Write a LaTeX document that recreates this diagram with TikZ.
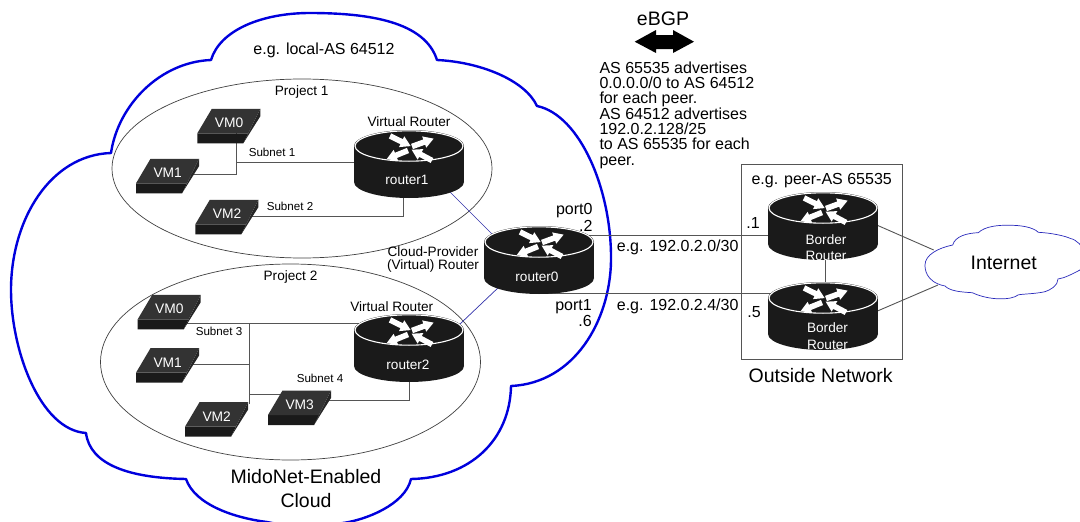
\documentclass[tikz,border=0pt]{standalone}
\usepackage{fontspec}
\setmainfont{Liberation Sans}
\usetikzlibrary{calc,backgrounds}
\definecolor{rblack}{HTML}{1A1A1A}
\definecolor{vmtop}{HTML}{333333}
\definecolor{vmfront}{HTML}{1A1A1A}
\definecolor{vmside}{HTML}{262626}
\definecolor{linkgray}{HTML}{555555}
\definecolor{bigblue}{HTML}{0000DD}
\definecolor{thinblue}{HTML}{3333AA}
\tikzset{
  tbig/.style={inner sep=0pt,font=\fontsize{19.5}{24}\selectfont,align=center},
  tmid/.style={inner sep=0pt,font=\fontsize{16}{15.3}\selectfont},
  tsm/.style={inner sep=0pt,font=\fontsize{13.6}{12.6}\selectfont,align=center},
  tsub/.style={inner sep=0pt,font=\fontsize{11.6}{13}\selectfont},
  twhite/.style={inner sep=0pt,text=white,font=\fontsize{13.6}{16.5}\selectfont,align=center},
  tvm/.style={inner sep=0pt,text=white,font=\fontsize{13.8}{14}\selectfont},
  link/.style={draw=linkgray,line width=0.9pt},
  bluelink/.style={draw=thinblue,line width=0.7pt},
  projell/.style={draw=black!75,line width=0.7pt},
  rnode/.style={inner sep=0pt,minimum width=110pt,minimum height=68pt},
}
\newcommand{\rarr}[3]{\fill[white,shift={(#1,#2)},rotate=#3] (0,2.8)--(13,2.8)--(13,6)--(23,0)--(13,-6)--(13,-2.8)--(0,-2.8)--cycle;}
\newcommand{\myrouter}[3]{%
  \begin{scope}[shift={(#2,#3)}]
    \fill[rblack] (0,36) ellipse [x radius=55,y radius=16];
    \fill[rblack] (-55,0) rectangle (55,36);
    \fill[rblack] (0,0) ellipse [x radius=55,y radius=16];
    \draw[white,line width=1.1pt] (0,0) ellipse [x radius=54,y radius=15.2];
    \rarr{-19}{-10}{-26}
    \rarr{3}{0.5}{20}
    \rarr{-1}{4.5}{202}
    \rarr{23}{14.5}{152}
    \node[rnode] (#1) at (0,18) {};
  \end{scope}}
\newcommand{\myvm}[4]{%
  \begin{scope}[shift={(#2,#3)}]
    \fill[vmfront] (0,0)--(51,0)--(46,10)--(0,10)--cycle;
    \fill[vmside] (51,0)--(63,-24.5)--(63,-17)--(46,10)--cycle;
    \fill[vmtop] (0,0)--(14.5,-24.5)--(63,-24.5)--(51,0)--cycle;
    \node[tvm] (#1) at (31.7,-10.3) {#4};
  \end{scope}}
\begin{document}
\begin{tikzpicture}[x=1pt,y=-1pt]
\clip (0,0) rectangle (1080,522);
% routers
\myrouter{r1}{409}{146}
\myrouter{r0}{539}{242}
\myrouter{r2}{409}{330}
\myrouter{b1}{823}{208}
\myrouter{b2}{823}{298}
\node[twhite] (r1t) at (407,180) {router1};
\node[twhite] (r0t) at (537,277) {router0};
\node[twhite] (r2t) at (408,365) {router2};
\node[twhite] (b1t) at (826,247.5) {Border\\Router};
\node[twhite] (b2t) at (827.5,336) {Border\\Router};
% VMs
\myvm{pa}{197.3}{133.3}{VM0}
\myvm{pb}{136}{183.3}{VM1}
\myvm{pc}{195.3}{224.3}{VM2}
\myvm{qa}{137.7}{319.3}{VM0}
\myvm{qb}{136}{372.7}{VM1}
\myvm{qc}{185}{426.7}{VM2}
\myvm{qd}{268}{415}{VM3}
% Internet cloud
\node[tbig] (inet) at (1003.7,262.7) {Internet};
\begin{pgfonlayer}{background}
\draw[link] ($(b1)+(37,-8.3)$) -- ($(inet)+(-70,-12.7)$);
\draw[link] ($(b2)+(37,2.5)$) -- ($(inet)+(-65.7,22.3)$);
\fill[white,draw=thinblue!80!blue,line width=0.7pt]
  (945,286) .. controls (925,282) and (925,268) .. (925,265)
  .. controls (925,255) and (938,248) .. (952.7,245)
  .. controls (955,236) and (968,233) .. (978.3,232.7)
  .. controls (985,226) and (1000,225) .. (1008,225.3)
  .. controls (1020,225) and (1033,227) .. (1038.3,232.3)
  .. controls (1052,233) and (1065,236) .. (1070,238.3)
  .. controls (1085,242) and (1090,262) .. (1080,270)
  .. controls (1072,274) and (1065,278) .. (1058,279)
  .. controls (1058,286) and (1050,290) .. (1045,291.7)
  .. controls (1035,294) and (1020,294) .. (1018,295)
  .. controls (1012,300) and (990,301) .. (972.3,292.7)
  .. controls (960,292) and (950,291) .. (945,286) -- cycle;
% big cloud
\node[draw=linkgray,line width=0.9pt,minimum width=160.6pt,minimum height=194.7pt,inner sep=0pt] (outbox) at (822,261.7) {};
\draw[bigblue,line width=2.4pt,line join=round]
  (111,153) .. controls (118,105) and (160,62) .. (211,60)
  .. controls (220,30) and (262,13) .. (310,13)
  .. controls (370,13) and (425,22) .. (437,60)
  .. controls (480,62) and (525,80) .. (537,106)
  .. controls (580,115) and (612,190) .. (611,261)
  .. controls (610,320) and (575,383) .. (511,386)
  .. controls (510,440) and (470,478) .. (411,479)
  .. controls (405,505) and (365,520) .. (343,523)
  .. controls (320,527) and (290,527) .. (267,522)
  .. controls (235,518) and (195,505) .. (186,479)
  .. controls (130,478) and (90,465) .. (86,433)
  .. controls (40,430) and (11,350) .. (11,290)
  .. controls (11,220) and (50,155) .. (111,153) -- cycle;
\draw[projell] (302,168.5) ellipse [x radius=190,y radius=89.5];
\draw[projell] (290.5,362) ellipse [x radius=190,y radius=98];
% connectors
\coordinate (ja) at (236.7,162.5);
\coordinate (jb) at (249,323);
\draw[link] ($(pa)+(7.7,0)$) -- (ja);
\draw[link] (ja) -- ($(r1)+(0,-1.5)$);
\draw[link] ($(pb)+(20,1)$) -| (ja);
\draw[link] ($(pc)+(20,2)$) -| ($(r1)+(-6,0)$);
\draw[link] ($(qa)+(0,14)$) -- ($(r2)+(0,-25)$);
\draw[link] (jb) -- ($(qc)+(32.3,-12)$);
\draw[link] ($(qb)+(20,2)$) -| (jb);
\draw[link] ($(qd)+(-15,-10.4)$) -| (jb);
\draw[link] ($(qd)+(20,-4.4)$) -| (r2);
\draw[bluelink] ($(r1)+(11,-2)$) -- ($(r0)+(-19,2)$);
\draw[bluelink] ($(r0)+(-19,7)$) -- ($(r2)+(31,-5)$);
\draw[link] ($(r0)+(0,-24.5)$) -- ($(b1)+(0,9.5)$);
\draw[link] ($(r0)+(0,33.3)$) -- ($(b2)+(0,-22.7)$);
\draw[link] ($(b1)+(2,0)$) -- ($(b2)+(2,0)$);
\end{pgfonlayer}
% eBGP arrow
\fill[black] (634.7,41.7)--(656,30)--(656,35)--(673,35)--(673,30)--(694,41.7)--(673,53)--(673,49)--(656,49)--(656,53)--cycle;
% labels
\node[tbig] (ebgp) at (663,19) {eBGP};
\node[tmid,anchor=north west,align=left] (adv) at (599.3,61.5) {AS 65535 advertises\\0.0.0.0/0 to AS 64512\\for each peer.\\AS 64512 advertises\\192.0.2.128/25\\to AS 65535 for each\\peer.};
\node[tmid] (lasn) at (324,50) {e.g. local-AS 64512};
\node[tsm] (pj1) at (301.7,92) {Project 1};
\node[tsm] (pj2) at (290.5,277) {Project 2};
\node[tsm] (vr1) at (409,122) {Virtual Router};
\node[tsm] (vr2) at (391.7,306.7) {Virtual Router};
\node[tsm] (cpr) at (433,259.5) {Cloud-Provider\\(Virtual) Router};
\node[tsub] (s1) at (272,152) {Subnet 1};
\node[tsub] (s2) at (290,206) {Subnet 2};
\node[tsub] (s3) at (219,331) {Subnet 3};
\node[tsub] (s4) at (320,378.7) {Subnet 4};
\node[tmid,anchor=east] (p0) at (592.7,211) {port0};
\node[tmid,anchor=east] (p0a) at (592.7,226) {.2};
\node[tmid,anchor=east] (p1) at (592,306.7) {port1};
\node[tmid,anchor=east] (p1a) at (592,321) {.6};
\node[tmid,anchor=west] (n0) at (616.7,247) {e.g. 192.0.2.0/30};
\node[tmid,anchor=west] (n1) at (616.7,306.7) {e.g. 192.0.2.4/30};
\node[tmid] (d1) at (753,223) {.1};
\node[tmid] (d5) at (754,311.7) {.5};
\node[tmid] (peer) at (821.7,181) {e.g. peer-AS 65535};
\node[tbig] (outn) at (820.7,376) {Outside Network};
\node[tbig] (mido) at (306,489) {MidoNet-Enabled\\Cloud};
\end{tikzpicture}
\end{document}
